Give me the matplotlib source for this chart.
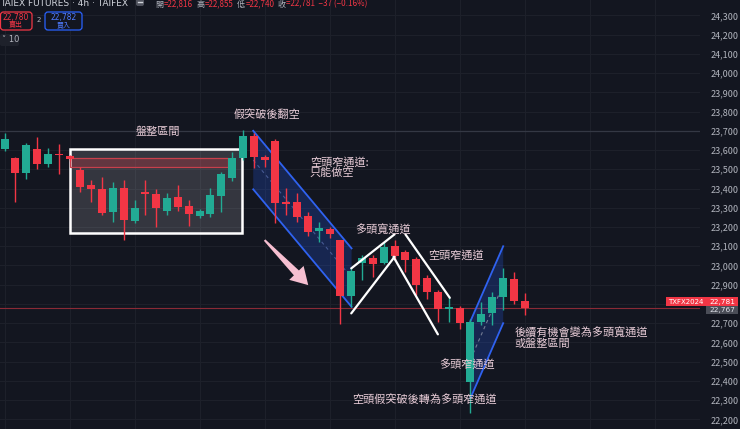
import numpy as np
import matplotlib.pyplot as plt
from matplotlib.patches import Rectangle, Polygon, FancyBboxPatch
from matplotlib.ticker import MultipleLocator, FuncFormatter

plt.rcParams['font.family'] = ['Noto Sans CJK TC', 'DejaVu Sans']

# 4h candles, TAIEX futures
opens = [23605, 23560, 23479, 23605, 23529, 23581, 23569, 23496, 23416, 23397,
         23276, 23401, 23232, 23382, 23371, 23284, 23354, 23309, 23258, 23266,
         23362, 23453, 23557, 23673, 23565, 23647, 23331, 23331, 23257, 23179,
         23189, 23132, 22841, 23011, 23040, 23011, 23100, 23071, 23032, 22933,
         22860, 22773, 22781, 22395, 22707, 22751, 22834, 22929, 22816]
highs = [23687, 23565, 23635, 23666, 23609, 23631, 23575, 23513, 23444, 23461,
         23432, 23444, 23340, 23444, 23396, 23378, 23418, 23340, 23292, 23401,
         23487, 23591, 23704, 23687, 23574, 23655, 23401, 23375, 23279, 23227,
         23201, 23135, 22993, 23054, 23054, 23123, 23132, 23080, 23045, 22950,
         22872, 22834, 22787, 22720, 22811, 22863, 22985, 22967, 22855]
lows = [23596, 23331, 23449, 23501, 23510, 23475, 23545, 23383, 23331, 23262,
        23227, 23132, 23219, 23262, 23198, 23262, 23284, 23205, 23245, 23250,
        23279, 23440, 23550, 23505, 23513, 23219, 23262, 23227, 23153, 23123,
        23141, 22695, 22785, 22924, 22941, 23007, 23028, 22967, 22846, 22824,
        22707, 22707, 22668, 22234, 22690, 22690, 22768, 22799, 22740]
closes = [23657, 23479, 23626, 23525, 23581, 23572, 23555, 23409, 23397, 23274,
          23401, 23236, 23297, 23370, 23297, 23352, 23305, 23266, 23283, 23364,
          23475, 23557, 23673, 23565, 23548, 23323, 23319, 23253, 23175, 23193,
          23163, 22841, 22972, 23040, 23007, 23097, 23049, 23028, 22898, 22860,
          22773, 22783, 22699, 22707, 22747, 22837, 22933, 22815, 22781]

price_ticks = list(range(22200, 24301, 100))
hidden_tick = 22800  # sits under the last-price tag

# drawings (candle index, price)
range_box_x = [6.0, 21.9]
range_box_y = [23170, 23605]
resist_band_x = [6.0, 20.6]
resist_band_y = [23512, 23558]
bear_ch_x = [22.95, 32.03]
bear_ch_top = [23700, 23089]
bear_ch_bot = [23396, 22785]
bull_ch_x = [43.0, 46.03]
bull_ch_top = [22710, 23100]
bull_ch_bot = [22310, 22700]
white_lines = [
    ([32.0, 36.0], [22985, 23162]),
    ([37.0, 41.1], [23162, 22832]),
    ([32.0, 36.0], [22751, 23045]),
    ([35.9, 40.0], [23045, 22642]),
]
arrow_from = (24.0, 23132)
arrow_to = (28.03, 22898)

notes = [
    ('盤整區間', 14.15, 23695, 'center'),
    ('假突破後翻空', 24.26, 23787, 'center'),
    ('空頭窄通道:\n只能做空', 28.18, 23510, 'left'),
    ('多頭寬通道', 34.92, 23187, 'center'),
    ('空頭窄通道', 41.7, 23054, 'center'),
    ('多頭窄通道', 42.72, 22487, 'center'),
    ('空頭假突破後轉為多頭窄通道', 38.8, 22297, 'center'),
    ('後續有機會變為多頭寬通道\n或盤整區間', 47.1, 22623, 'left'),
]

header_ohlc = [('開', '=22,816'), ('高', '=22,855'), ('低', '=22,740'), ('收', '=22,781  −37 (−0.16%)')]

bg = '#131620'
up_col = '#22ab94'
dn_col = '#f23645'
note_col = '#e8ccd7'

fig = plt.figure(figsize=(7.4, 4.29), dpi=100, facecolor=bg)
ax = fig.add_axes([0, 0, 700 / 740, 1])
ax.set_facecolor(bg)
ax.set_xlim(-0.43, 64.2)
ax.set_ylim(22150, 24380)

# grid
ax.xaxis.set_major_locator(MultipleLocator(6))
ax.grid(True, color='#1e212b', lw=0.7)
ax.set_axisbelow(True)
for s in ax.spines.values():
    s.set_visible(False)
ax.tick_params(axis='x', length=0, labelbottom=False)
ax.yaxis.tick_right()
ax.set_yticks(price_ticks)
ax.yaxis.set_major_formatter(FuncFormatter(lambda v, p: '' if int(v) == hidden_tick else f'{int(v):,}'))
ax.tick_params(axis='y', length=0, pad=7.5, labelsize=6.5, labelcolor='#b2b5be')
ax.axhline(23700, color='#343844', lw=0.9, zorder=1)

# range box + resistance band
ax.add_patch(Rectangle((range_box_x[0], range_box_y[0]), range_box_x[1] - range_box_x[0],
                       range_box_y[1] - range_box_y[0], facecolor=(1, 1, 1, 0.14),
                       edgecolor='white', lw=1.8, zorder=2))
ax.add_patch(Rectangle((resist_band_x[0], resist_band_y[0]), resist_band_x[1] - resist_band_x[0],
                       resist_band_y[1] - resist_band_y[0], facecolor=(0.95, 0.21, 0.27, 0.25),
                       edgecolor='#c8404c', lw=0.9, zorder=2))

# channels
for cx, top, bot, mid_col in [(bear_ch_x, bear_ch_top, bear_ch_bot, '#5a6fb0'),
                               (bull_ch_x, bull_ch_top, bull_ch_bot, '#9aa0b0')]:
    poly = [(cx[0], top[0]), (cx[1], top[1]), (cx[1], bot[1]), (cx[0], bot[0])]
    ax.add_patch(Polygon(poly, closed=True, facecolor=(0.16, 0.38, 1.0, 0.22), edgecolor='none', zorder=2))
    ax.plot(cx, top, color='#2f62f0', lw=1.3, zorder=3)
    ax.plot(cx, bot, color='#2f62f0', lw=1.3, zorder=3)
    ax.plot(cx, [(top[0] + bot[0]) / 2, (top[1] + bot[1]) / 2], color=mid_col,
            lw=0.8, ls=(0, (3, 3)), alpha=0.7, zorder=3)

# candles
idx = np.arange(len(opens))
o = np.array(opens)
c = np.array(closes)
cols = [up_col if cc >= oo else dn_col for oo, cc in zip(o, c)]
ax.vlines(idx, lows, highs, colors=cols, lw=1, zorder=4)
body_bot = np.minimum(o, c)
body_h = np.maximum(np.abs(c - o), 9)
ax.bar(idx, body_h, bottom=body_bot, width=0.74, color=cols, zorder=5)

# last price line
ax.axhline(closes[-1], color='#8a2a36', lw=0.8, zorder=1)

# white hand-drawn channel lines
for lx, ly in white_lines:
    ax.plot(lx, ly, color='white', lw=1.6, solid_capstyle='round', zorder=6)

# pink arrow (built in pixel space so it keeps its shape)
p0 = ax.transData.transform(arrow_from)
p1 = ax.transData.transform(arrow_to)
d = (p1 - p0) / np.hypot(*(p1 - p0))
n = np.array([-d[1], d[0]])
hb = p1 - d * 17
pts = [p0 + n * 1.0, hb + n * 3.5, hb + n * 10, p1, hb - n * 10, hb - n * 3.5, p0 - n * 1.0]
ax.add_patch(Polygon(ax.transData.inverted().transform(pts), closed=True,
                     facecolor='#f6bfd1', edgecolor='none', zorder=6))

for txt, x, y, ha in notes:
    ax.text(x, y, txt, color=note_col, fontsize=8, ha=ha, va='center',
            linespacing=1.0, zorder=7)

# overlay in pixel coordinates for the chart header and price tags
ov = fig.add_axes([0, 0, 1, 1])
ov.set_xlim(0, 740)
ov.set_ylim(429, 0)
ov.axis('off')
ov.patch.set_alpha(0)

ov.text(0, 6.5, 'TAIEX FUTURES · 4h · TAIFEX', color='#d1d4dc', fontsize=6.5,
        family='DejaVu Sans', va='baseline', ha='left')
ov.add_patch(FancyBboxPatch((136, -2), 8, 8, boxstyle='round,pad=0,rounding_size=2',
                            facecolor='#50535e', edgecolor='none'))
ov.plot([138, 142], [2, 2], color='#d1d4dc', lw=1)

# header O/H/L/C laid out one piece after another
renderer = fig.canvas.get_renderer()
x_cur = 155
for key, val in header_ohlc:
    for t, col in [(key, '#b2b5be'), (val, '#f23645')]:
        tx = ov.text(x_cur, 6.5, t, color=col, fontsize=5.8, va='baseline', ha='left')
        w = tx.get_window_extent(renderer).width
        x_cur += w + 0.5
    x_cur += 3

ov.add_patch(FancyBboxPatch((0.5, 12), 31.5, 18, boxstyle='round,pad=0,rounding_size=3',
                            facecolor=bg, edgecolor='#f23645', lw=0.9))
ov.text(16, 17.5, '22,780', color='#f23645', fontsize=5.5, ha='center', va='center', family='DejaVu Sans')
ov.text(16, 25.5, '賣出', color='#f23645', fontsize=5, ha='center', va='center')
ov.text(38.5, 20.5, '2', color='#b2b5be', fontsize=5, ha='center', va='center', family='DejaVu Sans')
ov.add_patch(FancyBboxPatch((45, 12), 37, 18, boxstyle='round,pad=0,rounding_size=3',
                            facecolor=bg, edgecolor='#2962ff', lw=0.9))
ov.text(63.5, 17.5, '22,782', color='#4f7bff', fontsize=5.5, ha='center', va='center', family='DejaVu Sans')
ov.text(63.5, 25.5, '買入', color='#4f7bff', fontsize=5, ha='center', va='center')
ov.add_patch(FancyBboxPatch((0, 34), 19, 12, boxstyle='round,pad=0,rounding_size=2',
                            facecolor='#1e212b', edgecolor='none'))
ov.text(1.5, 40, '˅ 10', color='#b2b5be', fontsize=6, ha='left', va='center', family='DejaVu Sans')

ov.add_patch(Rectangle((666, 297.2), 40, 8.5, facecolor='#f23645', edgecolor='none'))
ov.text(686, 301.6, 'TXFX2024', color='white', fontsize=5, ha='center', va='center', family='DejaVu Sans')
ov.add_patch(Rectangle((706, 297.2), 32, 8.5, facecolor='#f23645', edgecolor='none'))
ov.text(722, 301.6, f'{closes[-1]:,}', color='white', fontsize=5.3, ha='center', va='center', family='DejaVu Sans')
ov.add_patch(Rectangle((706, 305.7), 32, 8.5, facecolor='#4a4d57', edgecolor='none'))
ov.text(722, 310.1, '22,767', color='#e0e3eb', fontsize=5.3, ha='center', va='center', family='DejaVu Sans')

fig.savefig('out.png', dpi=100, facecolor=bg)
